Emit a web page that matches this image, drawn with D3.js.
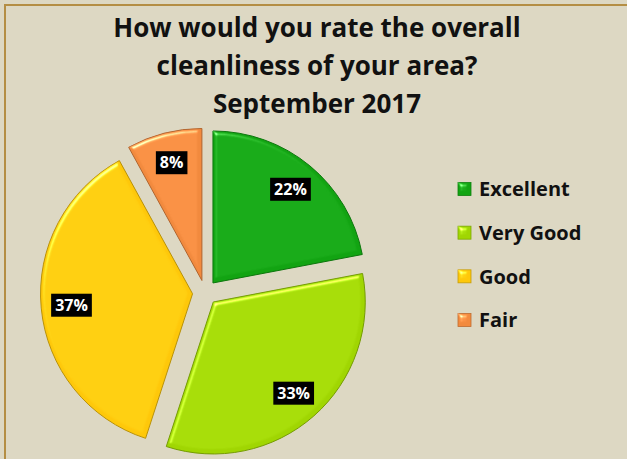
<!DOCTYPE html>
<html>
<head>
<meta charset="utf-8">
<script src="https://cdn.jsdelivr.net/npm/d3@7"></script>
<style>
  html, body { margin: 0; padding: 0; background: #ddd8c3; }
  svg { display: block; }
</style>
</head>
<body>
<svg id="chart" width="627" height="459"></svg>
<script>
// Survey answers, in the order they are laid out clockwise from 12 o'clock
const categories = ["Excellent", "Very Good", "Good", "Fair"];
const percentages = [22, 33, 37, 8];
const sliceColors = ["#12a412", "#a0d602", "#fec80a", "#f28a3e"];
const titleLines = [
  "How would you rate the overall",
  "cleanliness of your area?",
  "September 2017"
];

const W = 627, H = 459;
const svg = d3.select("#chart");
const fontFamily = "'Open Sans', Lato, sans-serif";

// background panel with a frame along the top and left edges
svg.append("rect").attr("width", W).attr("height", H).attr("fill", "#ddd8c3");
svg.append("rect")
  .attr("x", 5).attr("y", 5).attr("width", W + 20).attr("height", H + 20)
  .attr("fill", "none").attr("stroke", "#b48e44").attr("stroke-width", 2);

// soft bevel for slices and legend keys
const defs = svg.append("defs");
const bevel = defs.append("filter").attr("id", "bevel")
  .attr("color-interpolation-filters", "sRGB")
  .attr("x", "-10%").attr("y", "-10%").attr("width", "120%").attr("height", "120%");
bevel.append("feGaussianBlur").attr("in", "SourceAlpha").attr("stdDeviation", 2).attr("result", "blur");
bevel.append("feSpecularLighting")
  .attr("in", "blur").attr("surfaceScale", 3).attr("specularConstant", 0.8)
  .attr("specularExponent", 30).attr("lighting-color", "#ffffff").attr("result", "spec")
  .append("feDistantLight").attr("azimuth", 235).attr("elevation", 40);
bevel.append("feComposite").attr("in", "spec").attr("in2", "SourceAlpha")
  .attr("operator", "in").attr("result", "specIn");
bevel.append("feComposite").attr("in", "SourceGraphic").attr("in2", "specIn")
  .attr("operator", "arithmetic").attr("k1", 0).attr("k2", 1).attr("k3", 0.7).attr("k4", 0);

// title
svg.append("g").selectAll("text")
  .data(titleLines)
  .join("text")
  .attr("x", 317)
  .attr("y", (d, i) => 37 + i * 38)
  .attr("text-anchor", "middle")
  .attr("font-family", fontFamily)
  .attr("font-weight", "bold")
  .attr("font-size", 26)
  .attr("fill", "#111")
  .text(d => d);

// exploded pie
const cx = 205, cy = 292.6, radius = 152, explode = 12.5;
const color = d3.scaleOrdinal().domain(categories).range(sliceColors);
const pie = d3.pie().value(d => d.value).sort(null);
const arc = d3.arc().innerRadius(0).outerRadius(radius);
const data = categories.map((c, i) => ({ name: c, value: percentages[i] }));
const arcs = pie(data);

const offset = d => {
  const a = (d.startAngle + d.endAngle) / 2;
  return [Math.sin(a) * explode, -Math.cos(a) * explode];
};

const slices = svg.append("g")
  .attr("transform", `translate(${cx},${cy})`)
  .selectAll("g")
  .data(arcs)
  .join("g")
  .attr("transform", d => `translate(${offset(d)})`);

slices.append("path")
  .attr("d", arc)
  .attr("fill", d => color(d.data.name))
  .attr("stroke", d => d3.color(color(d.data.name)).darker(0.9))
  .attr("stroke-width", 1)
  .attr("filter", "url(#bevel)");

// value labels on black boxes
const labelArc = d3.arc().innerRadius(radius * 0.8).outerRadius(radius * 0.8);
const labels = slices.append("g")
  .attr("transform", d => `translate(${labelArc.centroid(d)})`);
labels.append("rect")
  .attr("fill", "#000");
labels.append("text")
  .attr("text-anchor", "middle")
  .attr("dy", "0.36em")
  .attr("font-family", fontFamily)
  .attr("font-weight", "bold")
  .attr("font-size", 16)
  .attr("fill", "#fff")
  .text(d => d.data.value + "%");
labels.each(function () {
  const g = d3.select(this);
  const w = g.select("text").node().getComputedTextLength();
  g.select("rect")
    .attr("x", -w / 2 - 4).attr("y", -11.5)
    .attr("width", w + 8).attr("height", 23);
});

// legend
const legendY = d3.scalePoint().domain(categories).range([189, 320]);
const legend = svg.append("g").selectAll("g")
  .data(categories)
  .join("g")
  .attr("transform", d => `translate(458,${legendY(d)})`);
legend.append("rect")
  .attr("x", 0).attr("y", -6.5).attr("width", 13).attr("height", 13)
  .attr("fill", d => color(d))
  .attr("stroke", d => d3.color(color(d)).darker(0.7))
  .attr("stroke-width", 0.8)
  .attr("filter", "url(#bevel)");
legend.append("text")
  .attr("x", 21)
  .attr("dy", "0.36em")
  .attr("font-family", fontFamily)
  .attr("font-weight", "bold")
  .attr("font-size", 20)
  .attr("fill", "#111")
  .text(d => d);
</script>
</body>
</html>
